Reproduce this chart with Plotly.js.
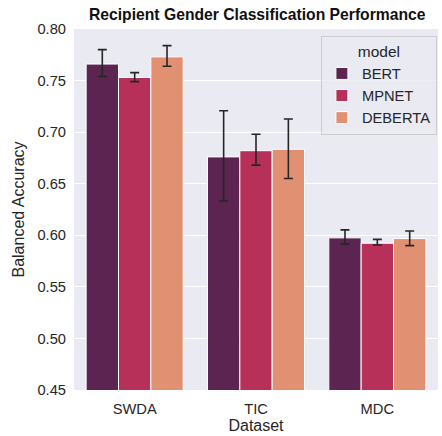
<!DOCTYPE html>
<html>
<head>
<meta charset="utf-8">
<script src="https://cdn.plot.ly/plotly-3.0.1.min.js"></script>
<style>html,body{margin:0;padding:0;background:#fff;}#chart{width:442px;height:436px;}</style>
</head>
<body>
<div id="chart"></div>
<script>
const datasets = ["SWDA", "TIC", "MDC"];
const models = ["BERT", "MPNET", "DEBERTA"];
const colors = ["#5c2450", "#b6305a", "#e29072"];
const means = {
  BERT:    [0.766, 0.676, 0.5975],
  MPNET:   [0.753, 0.682, 0.5923],
  DEBERTA: [0.773, 0.6834, 0.5968]
};
const upper = {
  BERT:    [0.780, 0.7208, 0.6052],
  MPNET:   [0.7577, 0.698, 0.5960],
  DEBERTA: [0.7839, 0.7128, 0.6042]
};
const lower = {
  BERT:    [0.754, 0.6333, 0.5914],
  MPNET:   [0.749, 0.668, 0.5906],
  DEBERTA: [0.7639, 0.655, 0.5900]
};

const font = "Liberation Sans, Arial, sans-serif";
const traces = models.map((m, i) => ({
  type: "bar",
  name: m,
  x: datasets,
  y: means[m],
  marker: {color: colors[i], line: {color: "#ffffff", width: 1}},
  error_y: {
    type: "data",
    symmetric: false,
    array: upper[m].map((u, k) => u - means[m][k]),
    arrayminus: means[m].map((v, k) => v - lower[m][k]),
    color: "#262626",
    thickness: 1.6,
    width: 4.5
  }
}));

const layout = {
  width: 442, height: 436,
  margin: {l: 74, r: 4, t: 29, b: 46},
  paper_bgcolor: "#ffffff",
  plot_bgcolor: "#eaeaf2",
  barmode: "group",
  bargap: 0.2,
  bargroupgap: 0,
  font: {family: font, color: "#262626", size: 14.7},
  title: {text: "<b>Recipient Gender Classification Performance</b>", font: {size: 15.7, family: font, color: "#111"}, x: 0.582, xanchor: "center", y: 0.967, yanchor: "middle"},
  xaxis: {
    title: {text: "Dataset", font: {size: 16}, standoff: 4},
    showgrid: false, zeroline: false, showline: false,
    ticks: "", tickfont: {size: 14.7}, ticklabelstandoff: 8
  },
  yaxis: {
    title: {text: "Balanced Accuracy", font: {size: 16}, standoff: 8},
    range: [0.45, 0.80],
    dtick: 0.05, tick0: 0.45, tickformat: ".2f",
    gridcolor: "#ffffff", gridwidth: 1,
    zeroline: false, showline: false, ticks: "",
    tickfont: {size: 14.7}, ticklabelstandoff: 7
  },
  legend: {
    title: {text: "model", font: {size: 15.5}, side: "top center"},
    x: 0.997, xanchor: "right", y: 0.98, yanchor: "top",
    bgcolor: "rgba(234,234,242,0.8)", bordercolor: "#cccccc", borderwidth: 1,
    font: {size: 14.7}, itemwidth: 30, tracegroupgap: 0
  },
  showlegend: true
};

Plotly.newPlot("chart", traces, layout, {displayModeBar: false, staticPlot: true});
</script>
</body>
</html>
